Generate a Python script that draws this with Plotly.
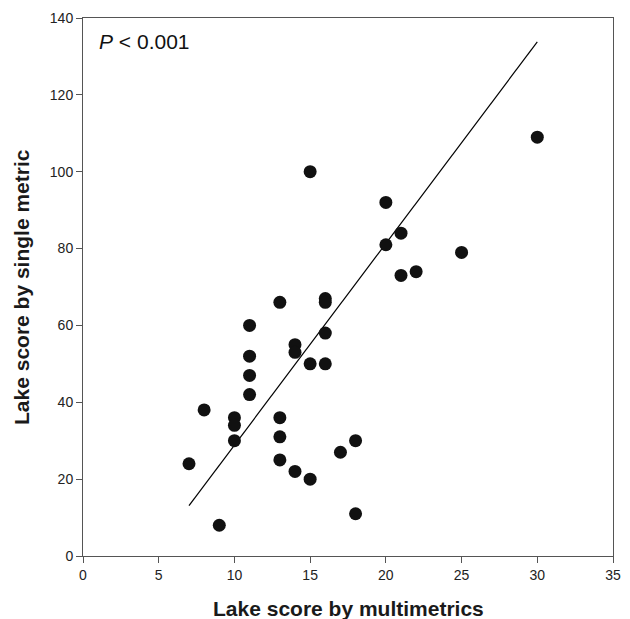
import plotly.graph_objects as go

# Data
multimetric_score = [7, 8, 9, 10, 10, 10, 11, 11, 11, 11, 13, 13, 13, 13, 14, 14, 14,
                     15, 15, 15, 16, 16, 16, 16, 17, 18, 18, 20, 20, 21, 21, 22, 25, 30]
single_metric_score = [24, 38, 8, 36, 34, 30, 60, 52, 47, 42, 66, 36, 31, 25, 55, 53, 22,
                       100, 50, 20, 67, 66, 58, 50, 27, 30, 11, 92, 81, 84, 73, 74, 79, 109]

# Fitted line end points, as drawn in the reference
fit_x = [7, 30]
fit_y = [13.1, 133.8]

x_ticks = [0, 5, 10, 15, 20, 25, 30, 35]
y_ticks = [0, 20, 40, 60, 80, 100, 120, 140]

x_title = "Lake score by multimetrics"
y_title = "Lake score by single metric"
p_label = "<i>P</i> < 0.001"

FONT = "Liberation Sans, Arial, sans-serif"

fig = go.Figure()
fig.add_trace(go.Scatter(
    x=fit_x, y=fit_y, mode="lines",
    line=dict(color="black", width=1.2),
    hoverinfo="skip", showlegend=False,
))
fig.add_trace(go.Scatter(
    x=multimetric_score, y=single_metric_score, mode="markers",
    marker=dict(color="#111111", size=13, line=dict(width=0)),
    showlegend=False,
))

axis_common = dict(
    showgrid=False, zeroline=False,
    showline=True, linecolor="#555555", linewidth=1, mirror=True,
    ticks="outside", ticklen=6, tickwidth=1, tickcolor="#555555",
    tickfont=dict(family=FONT, size=14, color="#222222"),
)

fig.update_xaxes(range=[0, 35], tickvals=x_ticks, **axis_common)
fig.update_yaxes(range=[0, 140], tickvals=y_ticks, **axis_common)

fig.update_layout(
    width=630, height=619,
    margin=dict(l=83, r=9, t=18, b=63),
    plot_bgcolor="white", paper_bgcolor="white",
    annotations=[
        dict(text=f"<b>{x_title}</b>", xref="paper", yref="paper", x=0.5, y=0,
             xanchor="center", yanchor="middle", yshift=-52, showarrow=False,
             font=dict(family=FONT, size=21, color="#1a1a1a")),
        dict(text=f"<b>{y_title}</b>", xref="paper", yref="paper", x=0, y=0.5,
             xanchor="center", yanchor="middle", xshift=-62, textangle=-90, showarrow=False,
             font=dict(family=FONT, size=21, color="#1a1a1a")),
        dict(text=p_label, xref="paper", yref="paper", x=0, y=1,
             xanchor="left", yanchor="top", xshift=14, yshift=-10, showarrow=False,
             font=dict(family=FONT, size=21, color="#111111")),
    ],
)

fig.write_html("out.html", config={"displayModeBar": False},
               post_script="document.body.style.margin='0';")
